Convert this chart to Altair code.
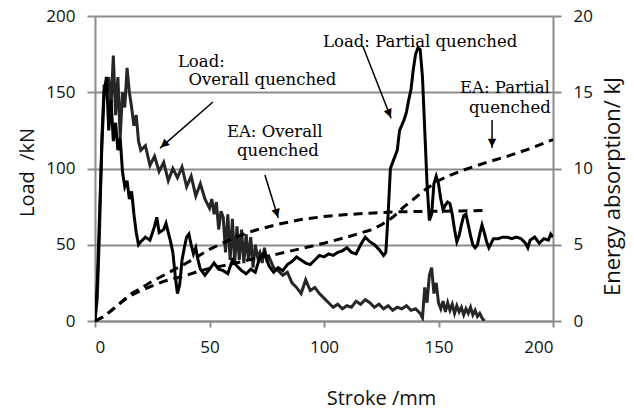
import altair as alt
import pandas as pd

# ---- data ----
oq_x = [0,1,2,3,4,5,6,7,8,9,10,11,12,13,14,15,16,17,18,19,20,22,24,26,28,30,32,34,36,38,40,42,44,46,48,
        50,51,52,53,54,55,56,57,58,59,60,61,62,63,64,65,66,67,68,69,70,71,72,73,74,75,76,78,80,82,84,86,88,
        90,92,94,96,98,100,102,104,106,108,110,112,114,116,118,120,122,124,126,128,130,132,134,136,138,140,
        142,143,144,145,146,147,148,149,150,151,152,153,154,155,156,157,158,159,160,161,162,163,164,165,166,
        167,168,169,170]
oq_load = [0,15,60,120,155,150,160,140,174,135,160,120,150,140,166,150,140,128,135,118,112,115,102,108,98,104,92,100,94,101,88,95,82,90,80,
           74,80,70,78,60,72,68,45,70,40,67,38,62,40,60,38,57,40,55,35,50,42,45,38,48,40,42,35,33,30,32,25,22,
           18,27,20,22,18,15,12,9,11,8,10,9,13,11,14,12,9,11,8,10,7,9,8,10,7,8,
           5,2,22,12,30,35,18,25,12,8,13,6,12,7,11,5,10,6,9,4,8,5,9,4,7,
           3,5,2,0]

pq_x = [0,1,2,3,4,5,6,7,8,9,10,11,12,13,14,15,16,17,18,19,20,22,24,26,27,28,30,31,32,33,34,35,36,37,38,39,40,41,42,
        43,44,45,46,48,50,52,54,56,58,60,62,64,66,68,70,72,74,76,78,80,82,84,86,88,90,92,94,96,98,100,102,104,106,
        108,110,112,114,116,118,120,122,124,126,127,128,129,130,132,133,135,136,137,138,139,140,141,142,143,144,145,
        146,147,148,149,150,151,152,153,154,155,156,157,158,159,160,161,162,163,164,165,166,167,168,169,170,171,172,
        173,174,176,178,180,182,184,186,188,189,190,192,194,196,198,199,200]
pq_load = [0,25,70,115,150,160,125,145,118,130,112,120,98,88,92,80,85,70,58,50,52,55,53,62,68,58,60,64,58,52,45,30,18,24,40,48,55,57,50,
           44,48,40,34,30,34,38,34,33,31,40,36,33,31,34,32,42,45,36,32,35,33,37,39,42,40,38,37,40,43,42,44,43,45,
           46,48,45,44,50,55,52,50,47,43,45,70,100,104,112,125,132,137,145,152,165,175,179,178,160,125,90,
           66,70,90,95,90,80,73,76,78,77,70,60,52,56,63,69,70,63,56,50,48,50,57,63,58,52,48,
           51,54,54,55,55,54,55,54,51,48,53,55,51,54,53,57,55]

ea_oq_x = [0,4,8,12,16,20,25,30,35,40,45,50,55,60,65,70,75,80,90,100,110,120,130,140,150,160,170]
ea_oq = [0,0.3,0.8,1.3,1.8,2.15,2.6,3.0,3.4,3.8,4.25,4.7,5.05,5.4,5.7,5.95,6.15,6.35,6.65,6.85,6.98,7.07,7.15,7.18,7.2,7.22,7.25]

ea_pq_x = [0,4,8,12,16,20,25,30,35,40,45,50,55,60,70,80,90,100,110,120,125,130,135,140,145,150,155,160,170,180,190,200]
ea_pq = [0,0.3,0.8,1.3,1.7,2.0,2.3,2.6,2.8,3.0,3.25,3.45,3.6,3.75,4.1,4.4,4.75,5.1,5.5,5.95,6.3,6.8,7.5,8.1,8.7,9.2,9.55,9.85,10.35,10.8,11.3,11.9]

# annotations (in data units: stroke mm, load kN)
note_text = ["Load:", "Overall quenched", "EA: Overall", "quenched", "Load: Partial quenched", "EA: Partial", "quenched"]
note_x = [36.2, 40.8, 57.6, 62.0, 99.6, 159.4, 163.3]
note_y = [170, 158, 124, 111.5, 183, 152.8, 139.7]

arrow_x0 = [51.5, 74.2, 117.0, 173.4]
arrow_y0 = [143.6, 95.7, 180.0, 131.8]
arrow_x1 = [28.4, 80.0, 129.3, 173.4]
arrow_y1 = [113.4, 67.5, 133.0, 113.4]
arrow_angle = [228.5, 163, 158, 180]

x_ticks = [0, 50, 100, 150, 200]
load_ticks = [0, 50, 100, 150, 200]
ea_ticks = [0, 5, 10, 15, 20]

GRID = "#8c8c8c"
SANS = "Open Sans"
SERIF = "DejaVu Serif"

oq_df = pd.DataFrame({"x": oq_x, "y": oq_load})
pq_df = pd.DataFrame({"x": pq_x, "y": pq_load})
ea_oq_df = pd.DataFrame({"x": ea_oq_x, "ea": ea_oq})
ea_pq_df = pd.DataFrame({"x": ea_pq_x, "ea": ea_pq})
note_df = pd.DataFrame({"x": note_x, "y": note_y, "t": note_text})
arrow_df = pd.DataFrame({"x": arrow_x0, "y": arrow_y0, "xe": arrow_x1, "ye": arrow_y1, "a": arrow_angle,
                         "h": ["\u25b2"] * len(arrow_x0)})

x_scale = alt.Scale(domain=[0, 200], nice=False, zero=False)
x_axis = alt.Axis(values=x_ticks, title="Stroke /mm", grid=False, domainColor=GRID, domainWidth=2,
                  tickColor=GRID, tickWidth=2, tickSize=6, labelPadding=12, labelFont=SANS, labelFontSize=17,
                  labelColor="#111", titleFont=SANS, titleFontSize=20, titleFontWeight="normal", titleColor="#111",
                  titleX=286, titleY=77, titleBaseline="middle", titleAlign="center")
load_scale = alt.Scale(domain=[0, 200], nice=False)
load_axis = alt.Axis(values=load_ticks, title="Load\u00a0\u00a0/kN", grid=True, gridColor=GRID, gridWidth=2,
                     domainColor=GRID, domainWidth=2, tickColor=GRID, tickWidth=2, tickSize=8, labelPadding=12,
                     labelFont=SANS, labelFontSize=17, labelColor="#111", titleFont=SANS, titleFontSize=20,
                     titleFontWeight="normal", titleColor="#111", titleX=-68, titleY=156, titleAngle=-90,
                     titleBaseline="middle", titleAlign="center")
ea_scale = alt.Scale(domain=[0, 20], nice=False)
ea_axis = alt.Axis(values=ea_ticks, orient="right", title="Energy absorption/ kJ", grid=False,
                   domainColor=GRID, domainWidth=2, tickColor=GRID, tickWidth=2, tickSize=8, labelPadding=12,
                   labelFont=SANS, labelFontSize=17, labelColor="#111", titleFont=SANS, titleFontSize=22,
                   titleFontWeight="normal", titleColor="#111", titleX=59, titleY=170, titleAngle=-90,
                   titleBaseline="middle", titleAlign="center")

X = alt.X("x:Q", scale=x_scale, axis=x_axis)
Y = alt.Y("y:Q", scale=load_scale, axis=load_axis)

oq_line = alt.Chart(oq_df).mark_line(color="#262626", strokeWidth=3, clip=True).encode(x=X, y=Y)
pq_line = alt.Chart(pq_df).mark_line(color="#000000", strokeWidth=3, clip=True).encode(x=X, y=Y)
notes = alt.Chart(note_df).mark_text(align="left", baseline="middle", font=SERIF, fontSize=16.5, color="#000").encode(
    x=X, y=Y, text="t:N")
arrows = alt.Chart(arrow_df).mark_rule(color="#000", strokeWidth=1.5).encode(x=X, y=Y, x2="xe:Q", y2="ye:Q")
heads = alt.Chart(arrow_df).mark_text(font="DejaVu Sans", fontSize=11, align="center", baseline="top",
                                      color="#000", dy=-1).encode(
    x=alt.X("xe:Q", scale=x_scale, axis=x_axis), y=alt.Y("ye:Q", scale=load_scale, axis=load_axis),
    angle=alt.Angle("a:Q", scale=None), text="h:N")

left = alt.layer(oq_line, pq_line, arrows, heads, notes)

EY = alt.Y("ea:Q", scale=ea_scale, axis=ea_axis)
ea1 = alt.Chart(ea_oq_df).mark_line(color="#000", strokeWidth=3, strokeDash=[9, 6]).encode(x=X, y=EY)
ea2 = alt.Chart(ea_pq_df).mark_line(color="#000", strokeWidth=3, strokeDash=[9, 6]).encode(x=X, y=EY)
right = alt.layer(ea1, ea2)

chart = alt.layer(left, right).resolve_scale(y="independent").properties(
    width=458, height=305,
    autosize=alt.AutoSizeParams(type="none"),
    padding={"left": 95, "top": 16, "right": 81, "bottom": 94},
    background="white",
).configure_view(stroke=None)

chart.save("out.html", embed_options={"renderer": "svg", "actions": False})
